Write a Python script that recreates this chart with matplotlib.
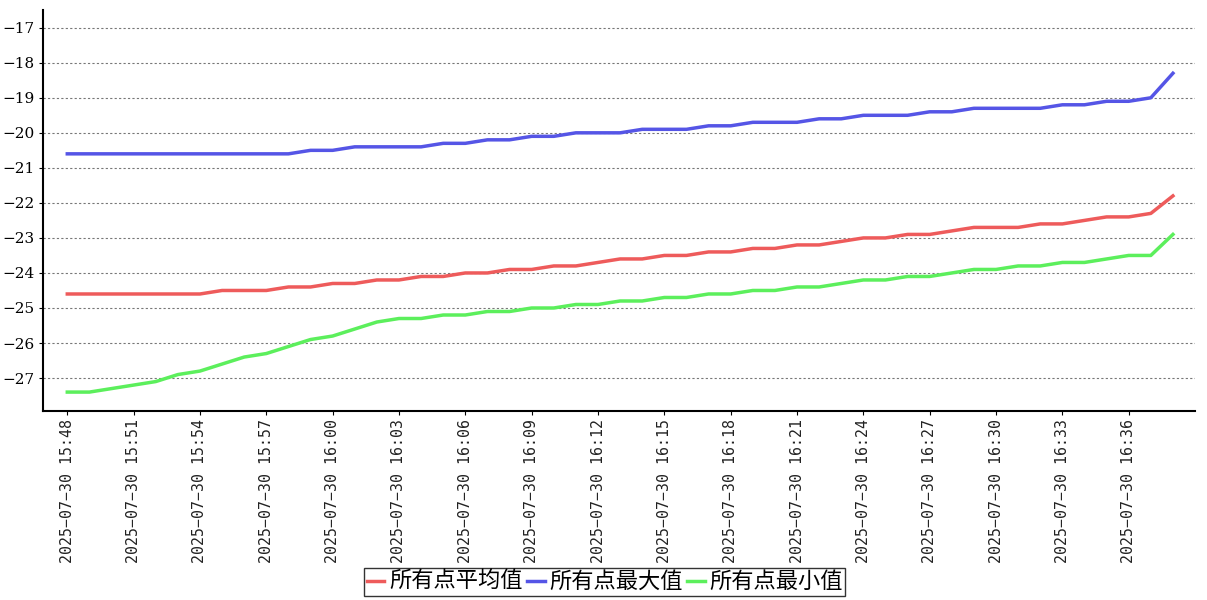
import matplotlib
matplotlib.use("Agg")
import matplotlib.pyplot as plt
import numpy as np

plt.rcParams["font.family"] = ["Noto Sans CJK SC", "DejaVu Sans"]
plt.rcParams["axes.unicode_minus"] = True

# 时间轴: 2025-07-30 15:48 ~ 16:38, 每分钟一个点
minutes = list(range(15 * 60 + 48, 16 * 60 + 39))
labels = ["2025\u221207\u221230 %02d:%02d" % (m // 60, m % 60) for m in minutes]

avg_vals = [
    -24.6, -24.6, -24.6, -24.6, -24.6, -24.6, -24.6, -24.5, -24.5, -24.5,
    -24.4, -24.4, -24.3, -24.3, -24.2, -24.2, -24.1, -24.1, -24.0, -24.0,
    -23.9, -23.9, -23.8, -23.8, -23.7, -23.6, -23.6, -23.5, -23.5, -23.4,
    -23.4, -23.3, -23.3, -23.2, -23.2, -23.1, -23.0, -23.0, -22.9, -22.9,
    -22.8, -22.7, -22.7, -22.7, -22.6, -22.6, -22.5, -22.4, -22.4, -22.3,
    -21.8,
]
max_vals = [
    -20.6, -20.6, -20.6, -20.6, -20.6, -20.6, -20.6, -20.6, -20.6, -20.6,
    -20.6, -20.5, -20.5, -20.4, -20.4, -20.4, -20.4, -20.3, -20.3, -20.2,
    -20.2, -20.1, -20.1, -20.0, -20.0, -20.0, -19.9, -19.9, -19.9, -19.8,
    -19.8, -19.7, -19.7, -19.7, -19.6, -19.6, -19.5, -19.5, -19.5, -19.4,
    -19.4, -19.3, -19.3, -19.3, -19.3, -19.2, -19.2, -19.1, -19.1, -19.0,
    -18.3,
]
min_vals = [
    -27.4, -27.4, -27.3, -27.2, -27.1, -26.9, -26.8, -26.6, -26.4, -26.3,
    -26.1, -25.9, -25.8, -25.6, -25.4, -25.3, -25.3, -25.2, -25.2, -25.1,
    -25.1, -25.0, -25.0, -24.9, -24.9, -24.8, -24.8, -24.7, -24.7, -24.6,
    -24.6, -24.5, -24.5, -24.4, -24.4, -24.3, -24.2, -24.2, -24.1, -24.1,
    -24.0, -23.9, -23.9, -23.8, -23.8, -23.7, -23.7, -23.6, -23.5, -23.5,
    -22.9,
]
yticks = list(range(-27, -16))

x = np.arange(len(minutes))

fig = plt.figure(figsize=(12.07, 6.0), dpi=100)
ax = fig.add_axes([0.0356, 0.315, 0.9545, 0.668])

ax.plot(x, avg_vals, color="#ee5b5b", lw=2.5, label="所有点平均值")
ax.plot(x, max_vals, color="#5555e6", lw=2.5, label="所有点最大值")
ax.plot(x, min_vals, color="#5cef5c", lw=2.5, label="所有点最小值")

ax.set_xlim(-1.1, 51.0)
ax.set_ylim(-27.94, -16.5)

ax.set_yticks(yticks)
ax.set_yticklabels(["\u2212%d" % abs(v) for v in yticks], fontsize=11,
                   family=["DejaVu Serif"])
ax.set_xticks(x[::3])
ax.set_xticklabels(labels[::3], rotation=90, fontsize=10.7,
                   family=["DejaVu Sans Mono"], color="#222222")

ax.grid(axis="y", linestyle=(0, (2, 2)), color="#777777", lw=0.8)
ax.grid(axis="x", visible=False)

for s in ["top", "right"]:
    ax.spines[s].set_visible(False)
for s in ["left", "bottom"]:
    ax.spines[s].set_linewidth(1.5)
ax.tick_params(axis="both", length=3, width=0.8, pad=3)

leg = fig.legend(loc="lower center", bbox_to_anchor=(0.501, 0.0), ncol=3,
                 fontsize=16, frameon=True, fancybox=False, handlelength=0.8,
                 handletextpad=0.2, columnspacing=0.2, borderpad=0.1,
                 borderaxespad=0.2)
leg.get_frame().set_edgecolor("black")
leg.get_frame().set_linewidth(1.0)

fig.savefig("out.png", dpi=100)
